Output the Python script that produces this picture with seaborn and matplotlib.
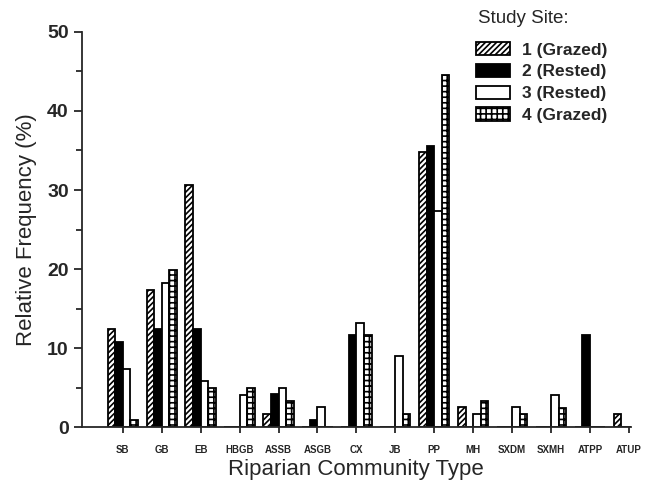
import pandas as pd
import matplotlib.pyplot as plt
import seaborn as sns
from matplotlib.patches import Patch

# Datos (frecuencia relativa en %)
tipos = ['SB', 'GB', 'EB', 'HBGB', 'ASSB', 'ASGB', 'CX', 'JB', 'PP',
         'MH', 'SXDM', 'SXMH', 'ATPP', 'ATUP']
sitios = ['1 (Grazed)', '2 (Rested)', '3 (Rested)', '4 (Grazed)']
sitio1 = [12.4, 17.4, 30.6, 0, 1.7, 0, 0, 0, 34.8, 2.5, 0, 0, 0, 1.6]
sitio2 = [10.8, 12.4, 12.4, 0, 4.2, 0.9, 11.6, 0, 35.6, 0, 0, 0, 11.6, 0]
sitio3 = [7.4, 18.2, 5.8, 4.1, 5.0, 2.5, 13.2, 9.0, 27.3, 1.6, 2.5, 4.1, 0, 0]
sitio4 = [0.9, 19.9, 5.0, 5.0, 3.3, 0, 11.6, 1.6, 44.6, 3.3, 1.6, 2.4, 0, 0]

df = pd.DataFrame({
    'tipo': tipos * 4,
    'sitio': [s for s in sitios for _ in tipos],
    'frecuencia': sitio1 + sitio2 + sitio3 + sitio4,
})

sns.set_style('ticks')
plt.rcParams['font.family'] = ['Liberation Sans', 'DejaVu Sans']
plt.rcParams['hatch.linewidth'] = 1.2

fig = plt.figure(figsize=(6.45, 4.99), dpi=100)
ax = fig.add_axes([0.127, 0.144, 0.851, 0.792])

sns.barplot(data=df, x='tipo', y='frecuencia', hue='sitio', order=tipos,
            hue_order=sitios, width=0.78, ax=ax, legend=False,
            palette=['white'] * 4)

# Estilo de cada serie (como en el original en blanco y negro)
estilos = [
    dict(facecolor='white', hatch='//////'),
    dict(facecolor='black', hatch=None),
    dict(facecolor='white', hatch=None),
    dict(facecolor='white', hatch='+++'),
]
for cont, est in zip(ax.containers, estilos):
    for barra in cont:
        barra.set_facecolor(est['facecolor'])
        barra.set_edgecolor('black')
        barra.set_linewidth(1.3)
        barra.set_hatch(est['hatch'])

ax.set_xlim(-1.05, 13.05)
ax.set_ylim(0, 50)
ax.set_yticks([0, 10, 20, 30, 40, 50])
ax.set_yticks([5, 15, 25, 35, 45], minor=True)
ax.tick_params(axis='y', labelsize=14, width=1.3, length=6)
ax.tick_params(axis='y', which='minor', width=1.3, length=4)
ax.tick_params(axis='x', labelsize=7, width=1.3, length=4, pad=9)
for t in ax.get_yticklabels() + ax.get_xticklabels():
    t.set_fontweight('bold')

ax.set_ylabel('Relative Frequency (%)', fontsize=16, labelpad=7)
ax.set_xlabel('Riparian Community Type', fontsize=16, labelpad=3)
sns.despine(ax=ax)
ax.spines['left'].set_linewidth(1.3)
ax.spines['bottom'].set_linewidth(1.3)

fig.text(0.741, 0.962, 'Study Site:', fontsize=13.5, va='center', ha='left')
handles = [Patch(facecolor=est['facecolor'], edgecolor='black',
                 hatch=est['hatch'], linewidth=1.3) for est in estilos]
leg = fig.legend(handles, sitios, loc='upper left',
                 bbox_to_anchor=(0.713, 0.947), frameon=False,
                 prop={'size': 12.5, 'weight': 'bold'},
                 handlelength=2.0, handleheight=0.8, handletextpad=0.7,
                 labelspacing=0.35)

fig.savefig('out.png', dpi=100)
